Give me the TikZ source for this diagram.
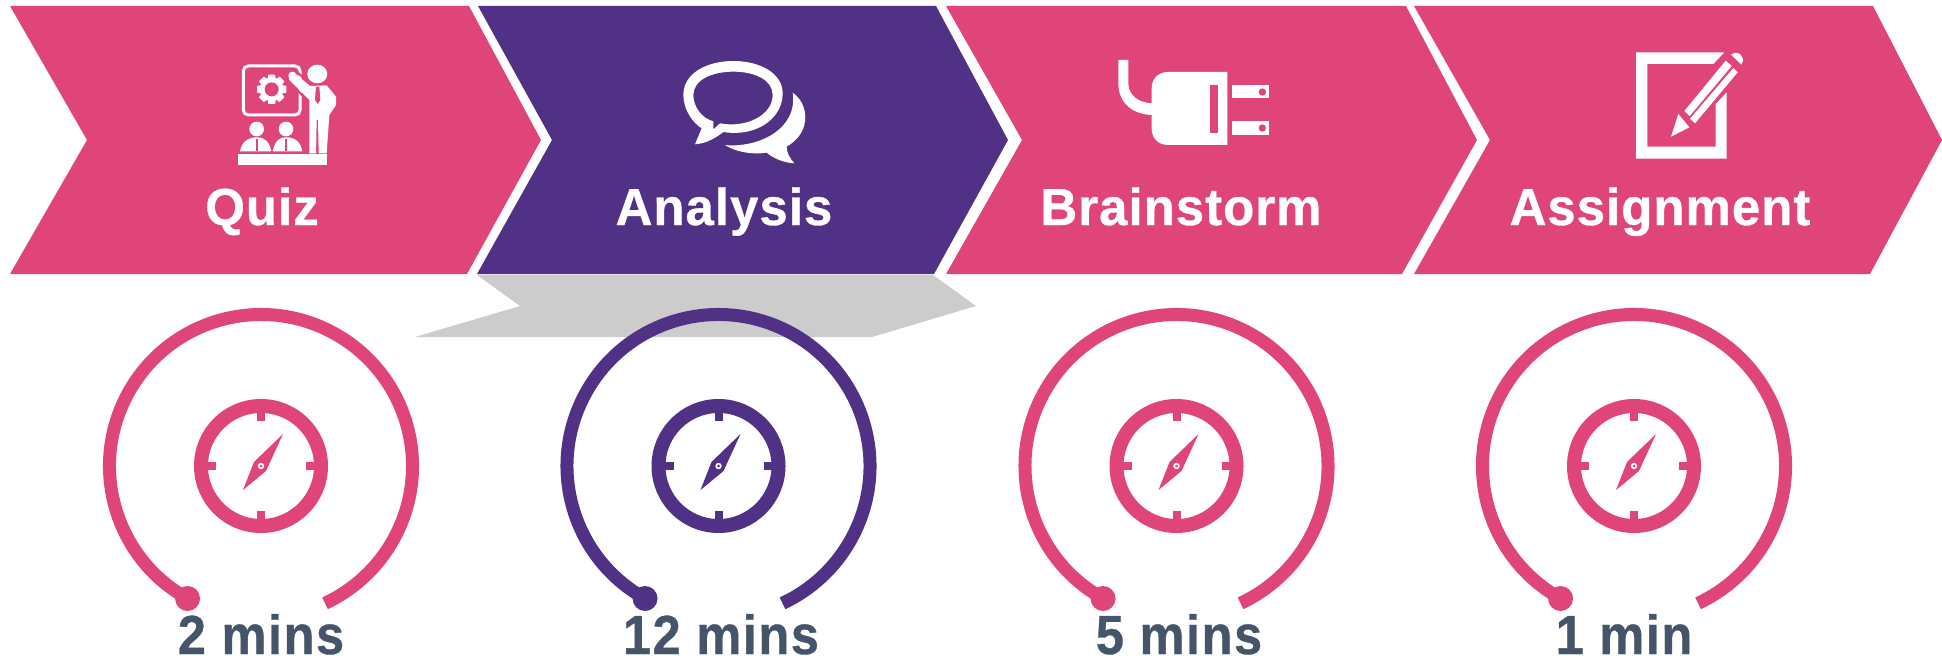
\documentclass[tikz,border=0pt]{standalone}
\usepackage{fontspec}
\setmainfont{Liberation Sans}
\newfontfamily\lblfont[BoldFeatures={LetterSpace=2,FakeBold=0.7}]{Liberation Sans}
\newfontfamily\timefont[BoldFeatures={LetterSpace=3,FakeBold=0.7}]{Liberation Sans}
\definecolor{pinkc}{HTML}{DF4578}
\definecolor{purpc}{HTML}{513186}
\definecolor{slatec}{HTML}{44546A}
\definecolor{shadowc}{HTML}{CCCCCC}
\tikzset{
  chev/.style={fill=#1,draw=none},
  title/.style={text=white,font=\lblfont\bfseries\fontsize{52}{52}\selectfont,anchor=base,inner sep=0pt,transform shape,xscale=0.98},
  timelabel/.style={text=slatec,font=\timefont\bfseries\fontsize{55}{55}\selectfont,anchor=base,inner sep=0pt,transform shape,xscale=0.92},
  icon/.style={fill=white,draw=none},
}
\newcommand{\clockunit}[3]{% x, colour, name
  \coordinate (c#3) at (#1,466);
  \draw[#2,line width=13pt] (c#3) ++(241:151.5pt) coordinate (d#3) arc[start angle=241,end angle=-65,radius=151.5pt];
  \fill[#2] (d#3) circle[radius=12.5pt];
  \draw[#2,line width=14pt] (c#3) circle[radius=60pt];
  \begin{scope}[shift={(c#3)}]
    \fill[#2] (-4,-54) rectangle (4,-45);
    \fill[#2] (-4,54) rectangle (4,45);
    \fill[#2] (-54,-4) rectangle (-45,4);
    \fill[#2] (54,-4) rectangle (45,4);
    \fill[#2] (22,-32) -- (-7,-4) -- (-18,24) -- (5,5) -- cycle;
    \fill[white] (0,0) circle[radius=3.2pt];
    \fill[#2] (0,0) circle[radius=1.5pt];
  \end{scope}
}
\begin{document}
\begin{tikzpicture}[x=1pt,y=-1pt]
\useasboundingbox (0,0) rectangle (1942,661);
% shadow
\fill[shadowc] (477,275) -- (933,275) -- (976,306) -- (872,337) -- (415,337) -- (520,306) -- cycle;
% chevrons
\fill[chev=pinkc] (10,6) -- (469,6) -- (541,140) -- (467,274) -- (10,274) -- (87,140) -- cycle;
\fill[chev=purpc] (478,6) -- (936,6) -- (1008,140) -- (934,274) -- (477,274) -- (552,140) -- cycle;
\fill[chev=pinkc] (946,6) -- (1406,6) -- (1477,140) -- (1402,274) -- (946,274) -- (1022,140) -- cycle;
\fill[chev=pinkc] (1414,6) -- (1873,6) -- (1942,140) -- (1870,274) -- (1414,274) -- (1490,140) -- cycle;
% quiz icon
\begin{scope}[shift={(230,50)},scale=1/3]
  \draw[white,line width=3pt,rounded corners=5pt] (40,48) rectangle (210,195);
  \foreach \a in {0,45,...,315}
    \fill[white,shift={(125,118)},rotate=\a] (-10,-44) -- (10,-44) -- (14,-25) -- (-14,-25) -- cycle;
  \fill[white] (125,118) circle[radius=31];
  \fill[pinkc] (125,118) circle[radius=21];
  % presenter
  \draw[pinkc,line width=2pt] (178,70) -- (196,60) -- (240,104) -- (236,155) -- (174,92) -- cycle;
  \fill[icon] (262,72) ellipse[x radius=30,y radius=28];
  \fill[icon] (175,75) .. controls (180,62) and (192,62) .. (198,72) -- (240,108) -- (290,106) -- (318,140) -- (318,165) -- (298,195) -- (290,310) -- (266,310) -- (264,210) -- (260,210) -- (258,310) -- (238,310) -- (238,150) -- (178,90) -- cycle;
  \fill[pinkc] (258,110) -- (268,110) -- (271,150) -- (263,162) -- (255,150) -- cycle;
  % students
  \fill[icon] (80,237) circle[radius=22];
  \fill[icon] (168,237) circle[radius=22];
  \fill[icon] (30,304) .. controls (35,275) and (55,262) .. (80,262) .. controls (105,262) and (118,275) .. (124,304) -- cycle;
  \fill[icon] (128,304) .. controls (135,275) and (145,262) .. (168,262) .. controls (195,262) and (212,275) .. (217,304) -- cycle;
  \fill[pinkc] (77,268) rectangle (83,304);
  \fill[pinkc] (165,268) rectangle (171,304);
  \fill[icon] (24,312) rectangle (291,344);
\end{scope}
% chat icon
\begin{scope}[shift={(670,50)},scale=1/3]
  \fill[icon,even odd rule]
    (95,235) -- (75,283) .. controls (110,280) and (135,265) .. (160,246)
    .. controls (260,262) and (338,205) .. (338,130)
    .. controls (338,70) and (270,33) .. (190,33)
    .. controls (110,33) and (40,70) .. (40,135)
    .. controls (40,180) and (70,220) .. (95,235) -- cycle
    (130,214) -- (130,238) -- (150,220)
    .. controls (230,235) and (308,195) .. (308,135)
    .. controls (308,90) and (255,65) .. (190,65)
    .. controls (125,65) and (70,90) .. (70,135)
    .. controls (70,170) and (95,205) .. (130,214) -- cycle;
  \fill[icon] (368,128) .. controls (400,150) and (412,190) .. (403,225)
    .. controls (395,255) and (375,275) .. (350,290)
    .. controls (350,310) and (360,325) .. (373,340)
    .. controls (340,338) and (310,325) .. (290,308)
    .. controls (245,315) and (195,305) .. (165,285)
    .. controls (260,295) and (385,240) .. (368,128) -- cycle;
\end{scope}
% plug icon
\begin{scope}[shift={(1105,50)},scale=1/3]
  \fill[icon] (40,30) -- (70,30) -- (70,100) .. controls (70,135) and (100,160) .. (145,160) -- (145,195) .. controls (85,195) and (40,160) .. (40,100) -- cycle;
  \fill[icon] (367,66) -- (190,66) .. controls (160,66) and (140,85) .. (140,115) -- (140,235) .. controls (140,265) and (160,285) .. (190,285) -- (367,285) -- cycle;
  \fill[pinkc] (314,105) rectangle (340,250);
  \fill[icon] (382,106) rectangle (491,145);
  \fill[icon] (382,214) rectangle (491,254);
  \fill[pinkc] (472,126) circle[radius=11];
  \fill[pinkc] (472,234) circle[radius=11];
\end{scope}
% assignment icon
\begin{scope}[shift={(1625,40)},scale=1/3]
  \fill[icon] (33,37) -- (298,37) -- (265,72) -- (67,72) -- (67,320) -- (272,320) -- (272,192) -- (305,157) -- (305,356) -- (33,356) -- cycle;
  \fill[icon] (178,213) -- (302,62) -- (320,78) -- (194,228) -- cycle;
  \fill[icon] (195,236) -- (325,84) -- (338,97) -- (210,250) -- cycle;
  \fill[icon] (138,290) -- (160,222) -- (193,262) -- cycle;
  \fill[icon] (318,44) .. controls (330,34) and (345,38) .. (351,50) .. controls (356,60) and (353,68) .. (349,74) -- cycle;
\end{scope}
% titles
\node[title] (quiz) at (262,225) {Quiz};
\node[title] (analysis) at (724,225) {Analysis};
\node[title] (brainstorm) at (1181,225) {Brainstorm};
\node[title] (assignment) at (1660,225) {Assignment};
% clocks
\clockunit{261}{pinkc}{A}
\clockunit{718.5}{purpc}{B}
\clockunit{1176.5}{pinkc}{C}
\clockunit{1634}{pinkc}{D}
% times
\node[timelabel] (ta) at (261,654) {2 mins};
\node[timelabel] (tb) at (721,654) {12 mins};
\node[timelabel] (tc) at (1179,654) {5 mins};
\node[timelabel] (td) at (1624,654) {1 min};
\end{tikzpicture}
\end{document}
